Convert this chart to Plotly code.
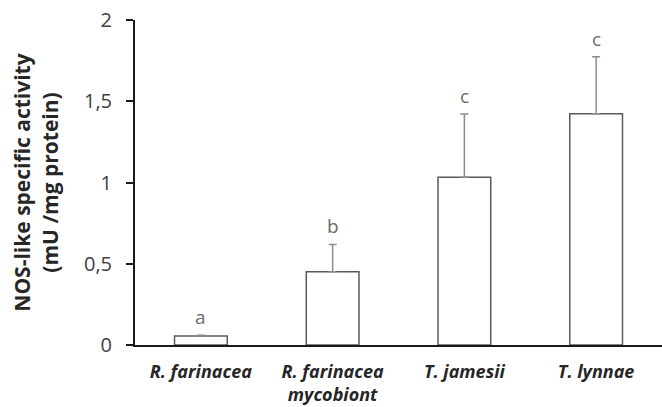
import plotly.graph_objects as go

categories = ["R. farinacea", "R. farinacea<br>mycobiont", "T. jamesii", "T. lynnae"]
values = [0.055, 0.451, 1.032, 1.423]
errors = [0.005, 0.168, 0.39, 0.351]
letters = ["a", "b", "c", "c"]
y_ticks = [0, 0.5, 1, 1.5, 2]

fig = go.Figure()
fig.add_trace(go.Bar(
    x=categories, y=values,
    marker=dict(color="white", line=dict(color="#595959", width=1.5)),
    width=0.4,
    error_y=dict(type="data", array=errors, arrayminus=[0]*len(errors), symmetric=False,
                 color="#8c8c8c", thickness=1.5, width=4),
))

for c, v, e, t in zip(categories, values, errors, letters):
    fig.add_annotation(x=c, y=v + e, text=t, showarrow=False, yanchor="bottom", yshift=3,
                       font=dict(family="Open Sans, sans-serif", size=19, color="#6b6b6b"))

fig.update_layout(
    width=662, height=407,
    margin=dict(l=135, r=0, t=20, b=62),
    plot_bgcolor="white", paper_bgcolor="white",
    separators=",.",
    showlegend=False,
    font=dict(family="Open Sans, sans-serif", color="#404040"),
    bargap=0.6,
)
fig.update_xaxes(
    tickvals=categories,
    ticktext=["<b><i>" + c + "</i></b>" for c in categories],
    tickfont=dict(size=18, color="#262626"),
    showline=True, linecolor="#1a1a1a", linewidth=2,
    ticks="", showgrid=False, ticklabelstandoff=9,
)
fig.update_yaxes(
    range=[0, 2], tickvals=y_ticks, ticktext=["0", "0,5", "1", "1,5", "2"],
    tickfont=dict(size=20, color="#404040"),
    showline=True, linecolor="#1a1a1a", linewidth=2,
    ticks="outside", ticklen=7, tickcolor="#1a1a1a", tickwidth=2,
    showgrid=False, zeroline=False, ticklabelstandoff=10,
    title=dict(text="<b>NOS-like specific activity<br>(mU /mg protein)</b>",
               font=dict(size=21, color="#262626"), standoff=20),
)

fig.write_html("out.html", config={"displayModeBar": False})
with open("out.html", encoding="utf-8") as f:
    html = f.read()
html = html.replace("<body>", '<body style="margin:0;padding:0;">', 1)
with open("out.html", "w", encoding="utf-8") as f:
    f.write(html)
